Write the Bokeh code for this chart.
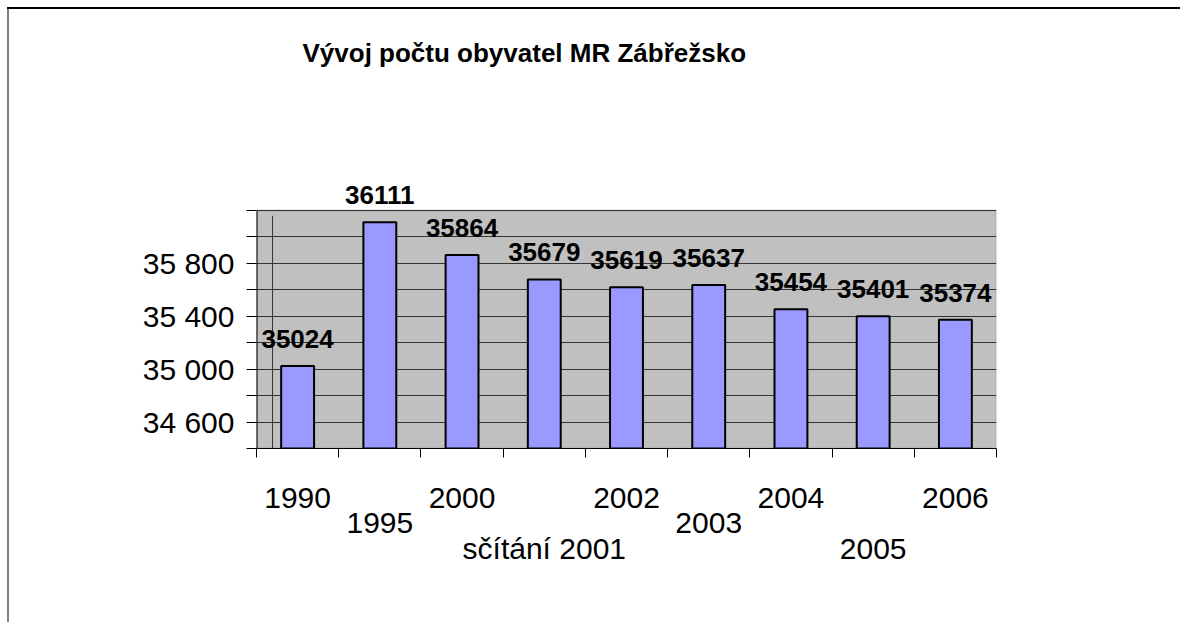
from bokeh.plotting import figure
from bokeh.models import ColumnDataSource, FixedTicker, LabelSet, Label, Range1d, BoxAnnotation
from bokeh.core.properties import value
from bokeh.embed import file_html
from bokeh.resources import INLINE

# ---- data ----
title_text = "Vývoj počtu obyvatel MR  Zábřežsko"
categories = ["1990", "1995", "2000", "sčítání 2001", "2002", "2003", "2004", "2005", "2006"]
population = [35024, 36111, 35864, 35679, 35619, 35637, 35454, 35401, 35374]
y_ticks = [34600, 35000, 35400, 35800]
y_tick_labels = ["34 600", "35 000", "35 400", "35 800"]
y_minor_ticks = [34400, 34800, 35200, 35600, 36000, 36200]
y_min, y_max = 34400, 36200

# ---- layout helpers ----
label_rows = [0, 1, 0, 2, 0, 1, 0, 2, 0]   # staggered category label rows
FONT = "Liberation Sans"
n = len(categories)
xc = [i + 0.5 for i in range(n)]

W, H = 1180, 622
FRAME_L, FRAME_R, FRAME_T, FRAME_B = 256, 996, 20, 448
PLOT_TOP_PX = 210                     # pixel row of y_max
units_per_px = (y_max - y_min) / (FRAME_B - PLOT_TOP_PX)
view_top = y_min + (FRAME_B - FRAME_T) * units_per_px

src = ColumnDataSource(dict(
    x=xc,
    pop=population,
    pop_label=[str(v) for v in population],
))

p = figure(width=W, height=H,
           x_range=Range1d(0, n), y_range=Range1d(y_min, view_top),
           output_backend="svg", toolbar_location=None,
           min_border_left=FRAME_L, min_border_right=W - FRAME_R,
           min_border_top=FRAME_T, min_border_bottom=H - FRAME_B)
p.styles = {
    "background": "linear-gradient(#000,#000) 7px 7px / 100% 2px no-repeat, "
                  "linear-gradient(#808080,#808080) 7px 7px / 2px 100% no-repeat"
}
p.background_fill_color = None
p.border_fill_color = None
p.outline_line_color = None

# grey plot area
p.add_layout(BoxAnnotation(bottom=y_min, top=y_max, fill_color="#C0C0C0", fill_alpha=1.0,
                           line_color="#808080", line_width=2, level="image"))

# bars
p.vbar(x="x", top="pop", bottom=y_min, width=0.4, source=src,
       fill_color="#9999FF", line_color="black", line_width=2)

# left axis line of the plot area
p.segment(x0=[0], y0=[y_min], x1=[0], y1=[y_max], line_color="black", line_width=2)
# stray vertical line seen in the original
p.segment(x0=[0.195], y0=[y_min], x1=[0.195], y1=[y_max - 40], line_color="#333333", line_width=1)

# y axis
yax = p.yaxis[0]
yax.ticker = FixedTicker(ticks=y_ticks, minor_ticks=y_minor_ticks)
yax.major_label_overrides = {t: l for t, l in zip(y_ticks, y_tick_labels)}
yax.major_label_text_font = FONT
yax.major_label_text_font_size = "30px"
yax.major_label_text_color = "black"
yax.major_label_standoff = 12
yax.major_tick_in = 0
yax.major_tick_out = 10
yax.minor_tick_in = 0
yax.minor_tick_out = 10
yax.major_tick_line_color = "black"
yax.minor_tick_line_color = "black"
yax.axis_line_color = None

# x axis: labels at category centres (staggered), ticks at boundaries
xax = p.xaxis[0]
xax.ticker = FixedTicker(ticks=xc, minor_ticks=list(range(n + 1)))
xax.major_label_overrides = {x: "\n" * r + c for x, r, c in zip(xc, label_rows, categories)}
xax.major_label_text_font = FONT
xax.major_label_text_font_size = "30px"
xax.major_label_text_line_height = 0.78
xax.major_label_text_color = "black"
xax.major_label_standoff = 23
xax.major_tick_in = 0
xax.major_tick_out = 0
xax.minor_tick_in = 0
xax.minor_tick_out = 9
xax.minor_tick_line_color = "black"
xax.axis_line_color = "black"

# grid
p.xgrid.visible = False
p.ygrid.grid_line_color = "#333333"
p.ygrid.minor_grid_line_color = "#333333"

# value labels
p.add_layout(LabelSet(x="x", y="pop", text="pop_label", source=src,
                      text_font=value(FONT), text_font_size="26px", text_font_style="bold",
                      text_align="center", text_baseline="alphabetic",
                      y_offset=18, text_color="black"))

# title
p.add_layout(Label(x=0, y=y_max, x_offset=46, y_offset=158, text=title_text,
                   text_font=FONT, text_font_size="26px", text_font_style="bold",
                   text_align="left", text_baseline="alphabetic", text_color="black"))

open("out.html", "w").write(file_html(p, INLINE))
